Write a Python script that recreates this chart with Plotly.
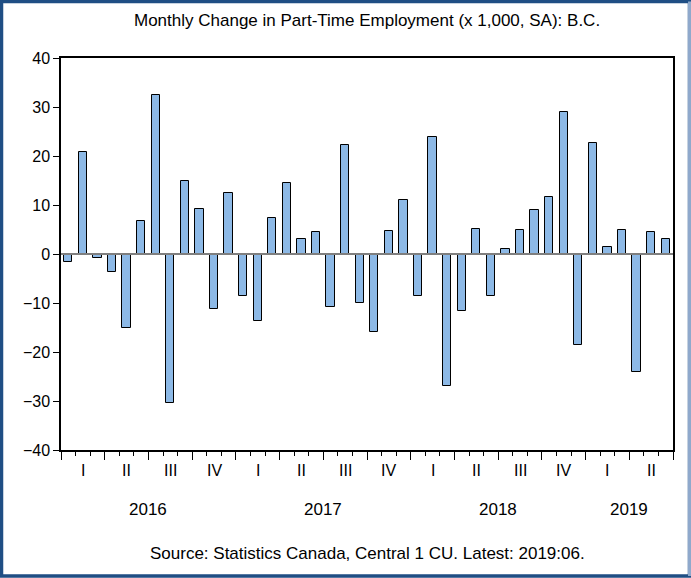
import plotly.graph_objects as go

# ---- data ----
months = [f"{y}-{m:02d}" for y in (2016, 2017, 2018) for m in range(1, 13)] + \
         [f"2019-{m:02d}" for m in range(1, 7)]
values = [-1.7, 20.8, -0.8, -3.6, -15.0, 6.7, 32.5, -30.5, 14.9, 9.1, -11.2, 12.4,
          -8.5, -13.6, 7.3, 14.4, 3.0, 4.4, -10.8, 22.2, -10.0, -16.0, 4.6, 11.0,
          -8.5, 23.9, -26.9, -11.7, 5.2, -8.5, 1.0, 5.0, 8.9, 11.7, 28.9, -18.5,
          22.6, 1.5, 4.8, -24.0, 4.5, 3.0]
quarter_labels = ["I", "II", "III", "IV"] * 3 + ["I", "II"]
year_labels = ["2016", "2017", "2018", "2019"]
y_ticks = [-40, -30, -20, -10, 0, 10, 20, 30, 40]
title_text = "Monthly Change in Part-Time Employment (x 1,000, SA): B.C."
source_text = "Source: Statistics Canada, Central 1 CU. Latest: 2019:06."

FONT = "Liberation Sans, Arial, sans-serif"
W, H = 691, 578
ML, MR, MT, MB = 61, 18, 58, 128
PW, PH = W - ML - MR, H - MT - MB

x = list(range(len(values)))
n = len(values)

fig = go.Figure()
fig.add_trace(go.Bar(
    x=x, y=values, width=0.57,
    marker=dict(color="#8DB9E6", line=dict(color="#000000", width=1)),
    hoverinfo="text", hovertext=[f"{m}: {v}" for m, v in zip(months, values)],
))

def px2paper_x(px):
    return (px - ML) / PW

def px2paper_y(py):
    return (H - MB - py) / PH

annotations = []
for q, lab in enumerate(quarter_labels):
    annotations.append(dict(x=3 * q + 1, xref="x", y=px2paper_y(470), yref="paper",
                            text=lab, showarrow=False, xanchor="center", yanchor="middle",
                            font=dict(family=FONT, size=16, color="#000")))
for i, yl in enumerate(year_labels):
    idx = [k for k, m in enumerate(months) if m.startswith(yl)]
    annotations.append(dict(x=(idx[0] + idx[-1]) / 2, xref="x", y=px2paper_y(509), yref="paper",
                            text=yl, showarrow=False, xanchor="center", yanchor="middle",
                            font=dict(family=FONT, size=17, color="#000")))
annotations.append(dict(x=0.5, xref="paper", y=px2paper_y(20), yref="paper", text=title_text,
                        showarrow=False, xanchor="center", yanchor="middle",
                        font=dict(family=FONT, size=17, color="#000")))
annotations.append(dict(x=0.5, xref="paper", y=px2paper_y(553), yref="paper", text=source_text,
                        showarrow=False, xanchor="center", yanchor="middle",
                        font=dict(family=FONT, size=17, color="#000")))

shapes = [
    dict(type="line", xref="paper", yref="y", x0=0, x1=1, y0=0, y1=0,
         line=dict(color="#7F7F7F", width=2), layer="above"),
    dict(type="rect", xref="paper", yref="paper",
         x0=px2paper_x(1.5), x1=px2paper_x(689.5), y0=px2paper_y(576), y1=px2paper_y(1.5),
         line=dict(color="#1F4E84", width=3.5), layer="above"),
    dict(type="line", xref="paper", yref="paper",
         x0=px2paper_x(689.5), x1=px2paper_x(689.5), y0=px2paper_y(576), y1=px2paper_y(1.5),
         line=dict(color="#8FA9CC", width=3), layer="above"),
]

fig.update_layout(
    width=W, height=H,
    margin=dict(l=ML, r=MR, t=MT, b=MB, pad=0),
    paper_bgcolor="white", plot_bgcolor="white",
    showlegend=False,
    font=dict(family=FONT, size=16, color="#000"),
    annotations=annotations, shapes=shapes,
    bargap=0,
)
fig.update_xaxes(
    range=[-0.5, n - 0.5],
    tickmode="array", tickvals=[3 * q - 0.5 for q in range(len(quarter_labels) + 1)],
    ticks="outside", ticklen=8, tickwidth=1.2, tickcolor="#000",
    showticklabels=False, showgrid=False, zeroline=False,
    showline=True, linecolor="#000", linewidth=1.5, mirror=True,
    minor=dict(tickmode="linear", tick0=-0.5, dtick=1, ticks="outside", ticklen=4,
               tickwidth=1, tickcolor="#000", showgrid=False),
    fixedrange=True,
)
fig.update_yaxes(
    range=[-40, 40], tickmode="array", tickvals=y_ticks,
    ticks="outside", ticklen=6, tickwidth=1, tickcolor="#000",
    tickfont=dict(family=FONT, size=16, color="#000"),
    showgrid=False, zeroline=False,
    showline=True, linecolor="#000", linewidth=1.5, mirror=True,
    fixedrange=True,
)

fig.write_html("out.html", config={"displayModeBar": False},
               post_script="document.body.style.margin='0';document.body.style.overflow='hidden';")
